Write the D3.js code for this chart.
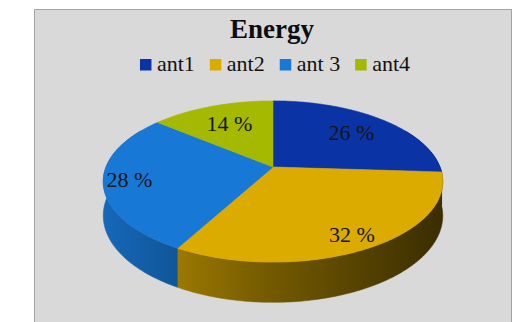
<!DOCTYPE html>
<html>
<head>
<meta charset="utf-8">
<script src="https://cdn.jsdelivr.net/npm/d3@7"></script>
<style>
  html, body { margin: 0; padding: 0; background: #ffffff; }
  svg { display: block; }
</style>
</head>
<body>
<svg id="chart" width="531" height="322"></svg>
<script>
// Energy share per antenna
const categories = ["ant1", "ant2", "ant 3", "ant4"];
const values = [26, 32, 28, 14];
const colors = ["#0a34a6", "#dcab00", "#1878d6", "#a4b900"];
const title = "Energy";

// how far out along each slice its percentage label sits (fraction of radius)
const labelRadius = [0.7, 0.85, 0.85, 0.68];

const FONT = "'Liberation Serif', 'Times New Roman', Times, serif";
const svg = d3.select("#chart");

// panel
svg.append("rect")
  .attr("x", 34.5).attr("y", 9.5)
  .attr("width", 477).attr("height", 320)
  .attr("fill", "#d9d9d9")
  .attr("stroke", "#a3a3a3").attr("stroke-width", 1);

// title
svg.append("text")
  .attr("x", 272).attr("y", 38)
  .attr("text-anchor", "middle")
  .attr("font-family", FONT)
  .attr("font-size", 27).attr("font-weight", "bold")
  .attr("fill", "#0d0d0d")
  .text(title);

// legend, laid out from measured text widths and centred
const legend = svg.append("g");
let lx = 0;
categories.forEach((c, i) => {
  const g = legend.append("g");
  g.append("rect").attr("x", lx).attr("y", 59).attr("width", 11.5).attr("height", 11.5).attr("fill", colors[i]);
  const t = g.append("text").attr("x", lx + 17).attr("y", 70.5)
    .attr("font-family", FONT)
    .attr("font-size", 22).attr("fill", "#111").text(c);
  lx += 17 + t.node().getComputedTextLength() + 15;
});
const legW = lx - 15;
legend.attr("transform", `translate(${275 - legW / 2},0)`);

// 3D pie projection: angle (0 = top, clockwise), radial fraction, drop below top face
const cx = 273, cy = 167, rx = 167, ry = 78, persp = 0.18, depth = 33;
function project(theta, frac, drop) {
  const u = frac * Math.sin(theta), v = -frac * Math.cos(theta);
  const s = 1 / (1 - persp * v);
  return [cx + rx * u * s, cy + ry * v * s + drop * s];
}

const pie = d3.pie().sort(null).value(d => d)(values);
const deg = Math.PI / 180;
function arcPoints(a0, a1, drop) {
  const n = Math.max(2, Math.ceil((a1 - a0) / deg));
  return d3.range(n + 1).map(j => project(a0 + (a1 - a0) * j / n, 1, drop));
}
const line = d3.line();

// side shading: gradient across the width of the pie, darker toward the right
const defs = svg.append("defs");
pie.forEach((p, i) => {
  const base = d3.rgb(colors[i]);
  const grad = defs.append("linearGradient")
    .attr("id", "side" + i)
    .attr("gradientUnits", "userSpaceOnUse")
    .attr("x1", cx - rx).attr("x2", cx + rx).attr("y1", 0).attr("y2", 0);
  const stops = [[0, 0.86], [0.25, 0.68], [0.5, 0.52], [1, 0.27]];
  stops.forEach(([o, f]) => {
    grad.append("stop").attr("offset", o)
      .attr("stop-color", d3.rgb(base.r * f, base.g * f, base.b * f).formatHex());
  });
});

// sides (front half, slightly widened so the outline closes cleanly)
const sideLo = 60 * deg, sideHi = 300 * deg;
const sides = svg.append("g");
pie.forEach((p, i) => {
  const a0 = Math.max(p.startAngle, sideLo), a1 = Math.min(p.endAngle, sideHi);
  if (a1 <= a0) return;
  const top = arcPoints(a0, a1, 0);
  const bottom = arcPoints(a0, a1, depth).reverse();
  sides.append("path")
    .attr("d", line(top.concat(bottom)) + "Z")
    .attr("fill", `url(#side${i})`)
    .attr("stroke", `url(#side${i})`).attr("stroke-width", 0.5);
});

// top faces
const tops = svg.append("g");
pie.forEach((p, i) => {
  const pts = [project(0, 0, 0)].concat(arcPoints(p.startAngle, p.endAngle, 0));
  tops.append("path")
    .attr("d", line(pts) + "Z")
    .attr("fill", colors[i])
    .attr("stroke", colors[i]).attr("stroke-width", 0.6);
});

// percentage labels
const total = d3.sum(values);
pie.forEach((p, i) => {
  const mid = (p.startAngle + p.endAngle) / 2;
  const [x, y] = project(mid, labelRadius[i], 0);
  svg.append("text")
    .attr("x", x).attr("y", y).attr("dy", "0.35em")
    .attr("text-anchor", "middle")
    .attr("font-family", FONT)
    .attr("font-size", 22).attr("fill", "#151515")
    .text(Math.round(values[i] / total * 100) + " %");
});
</script>
</body>
</html>
